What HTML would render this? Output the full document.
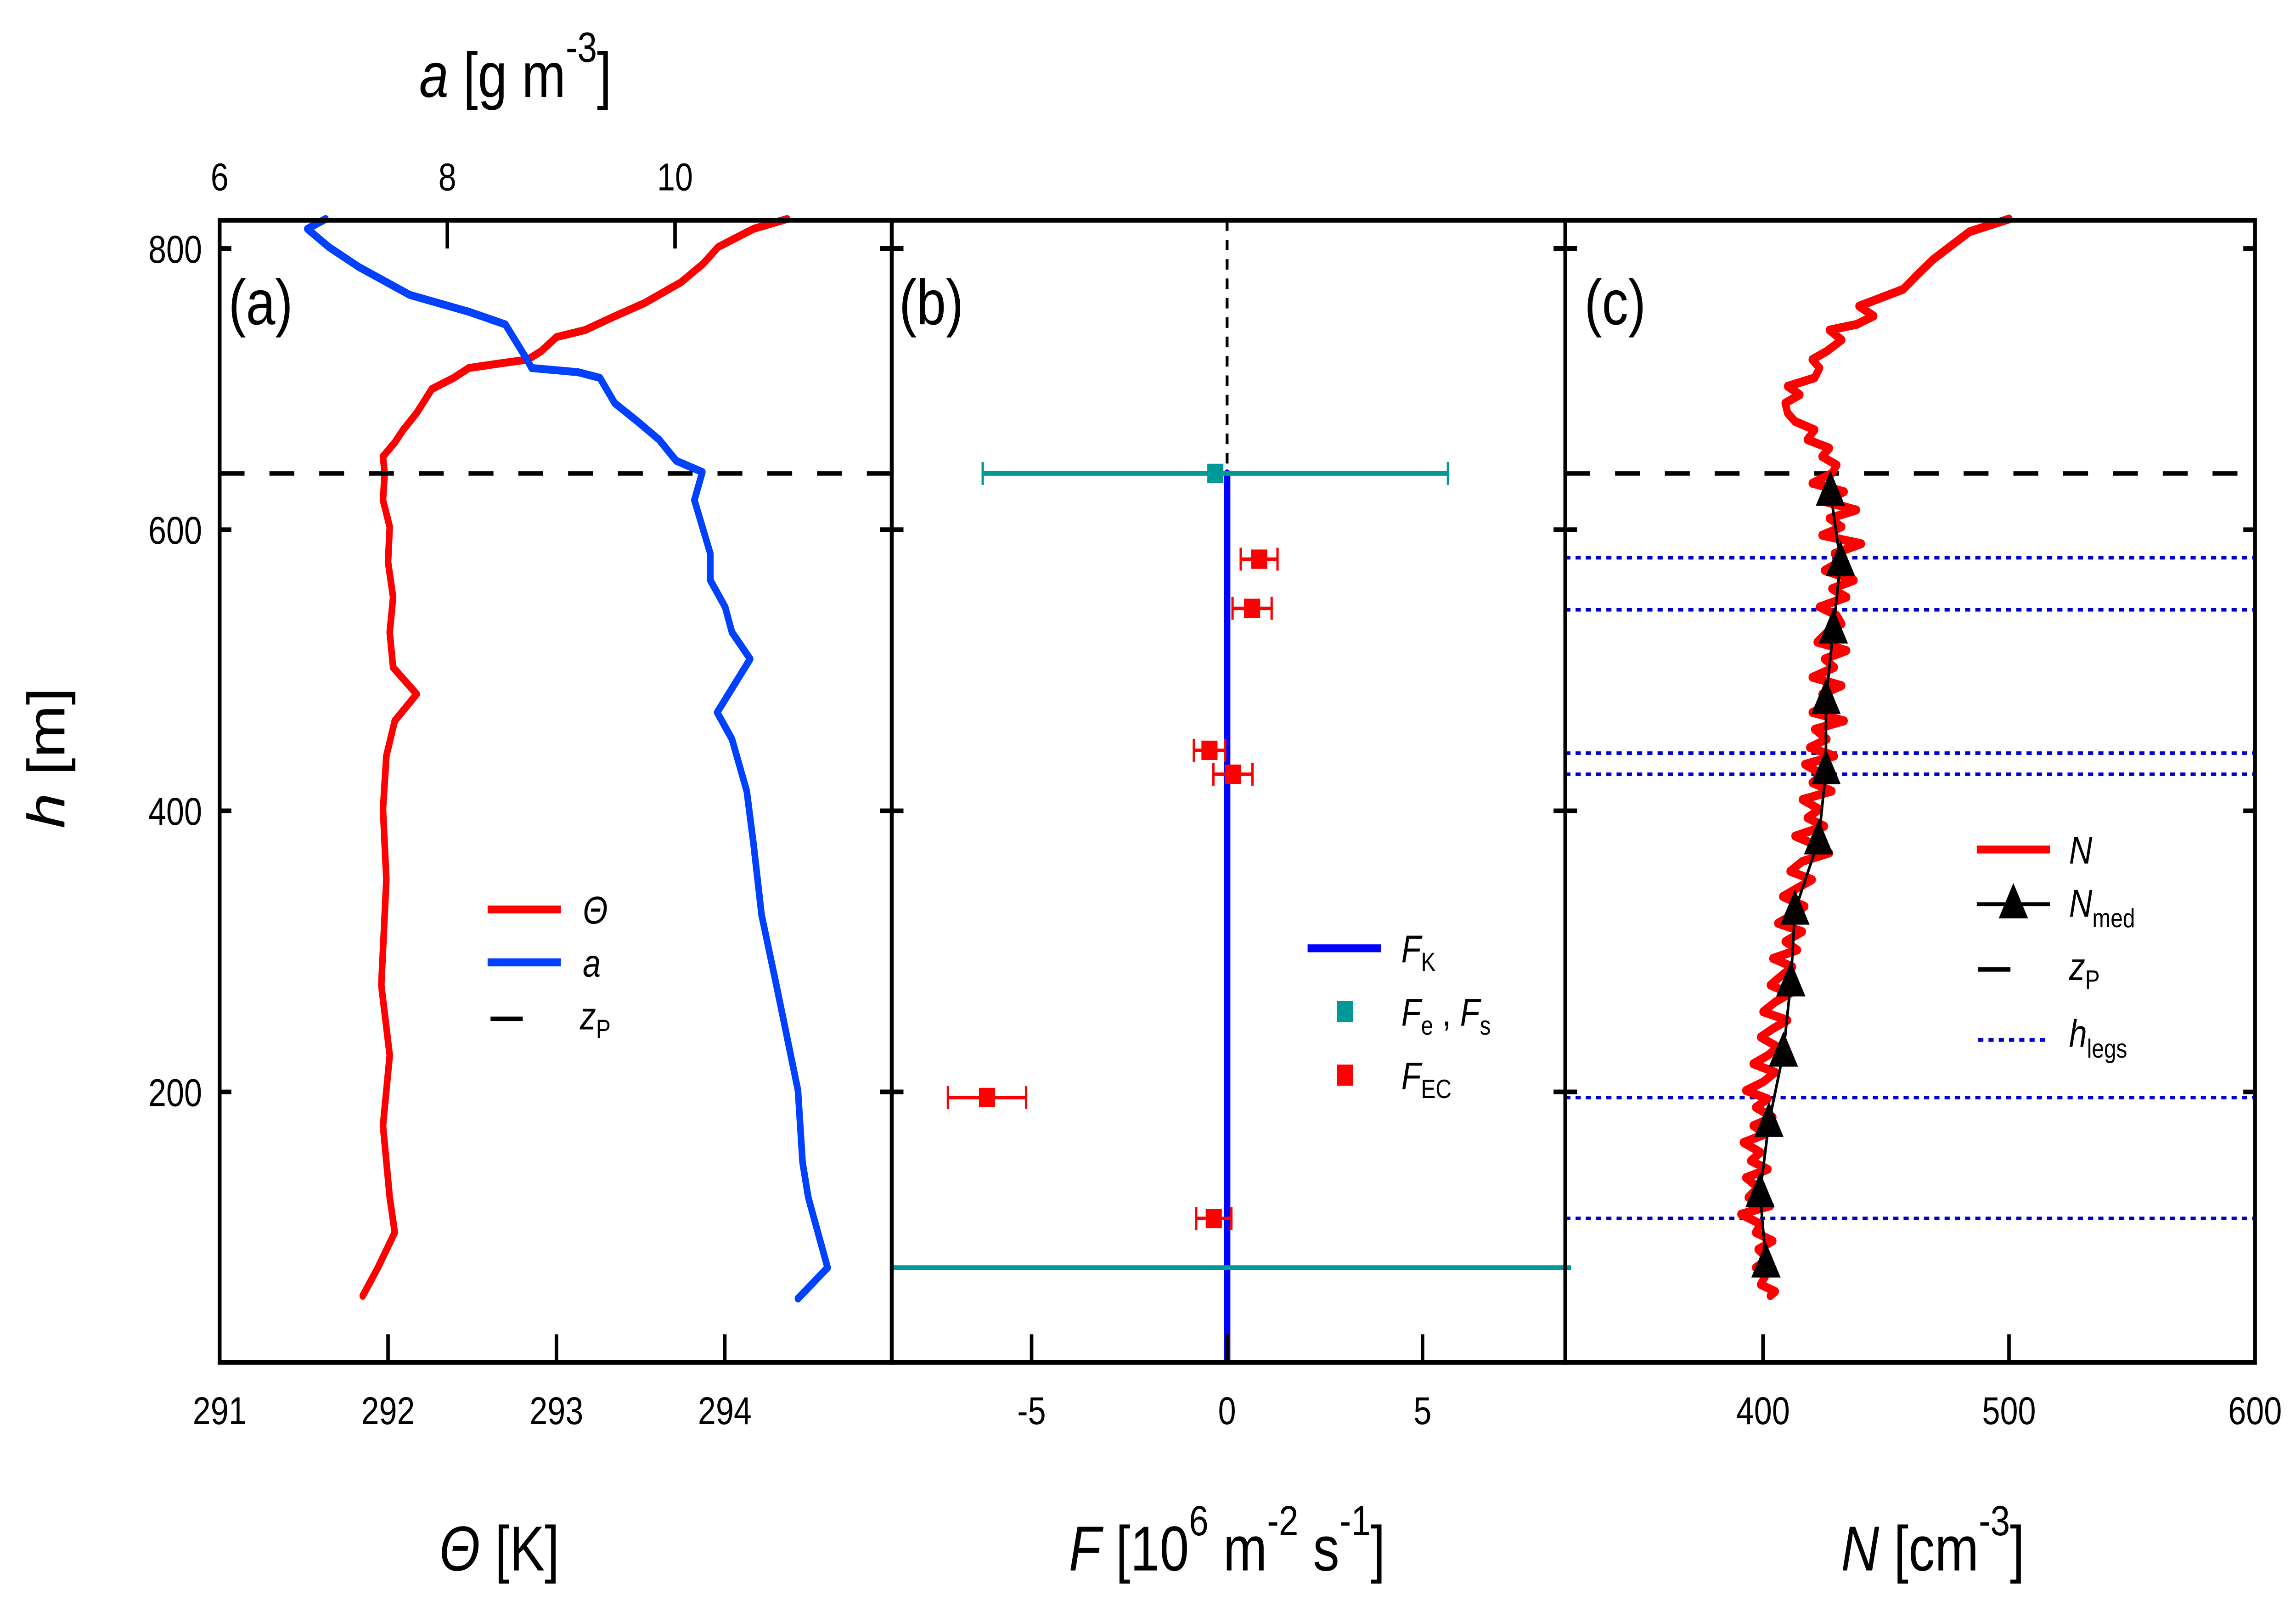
<!DOCTYPE html>
<html><head><meta charset="utf-8"><style>
html,body{margin:0;padding:0;background:#fff;width:100%;height:100%;overflow:hidden;}
svg{position:absolute;left:0;top:0;width:100vw;height:100vh;}
text{font-family:"Liberation Sans",Arial,sans-serif;}
</style></head><body>
<svg id="chart" xmlns="http://www.w3.org/2000/svg" viewBox="0 0 1568 907.76" preserveAspectRatio="none">
<rect x="0" y="0" width="1568" height="908" fill="#fff"/>
<g id="marks"></g>
<g id="frames"></g>
<g id="labels"></g>
</svg>
<script>
// ---------- data ----------
const thetaH = [821,814,801,789,776,761,752,742,737,727,721,718,715,708,700,683,671,662,652,640,621,602,577,552,527,502,483,464,439,401,351,301,276,226,176,125,100,75,55];
const thetaVals = [294.37,294.17,293.96,293.87,293.74,293.52,293.35,293.17,293.0,292.91,292.83,292.65,292.48,292.39,292.26,292.17,292.09,292.04,291.97,291.98,291.97,292.01,292.0,292.03,292.01,292.03,292.17,292.04,291.99,291.97,291.99,291.97,291.96,292.01,291.97,292.01,292.04,291.94,291.85];
const aH = [821,814,801,787,767,755,746,721,715,712,708,690,677,664,649,641,621,602,583,564,545,527,508,470,451,414,376,326,276,201,150,125,75,53];
const aVals = [6.93,6.77,6.96,7.22,7.67,8.19,8.51,8.70,8.74,9.15,9.34,9.47,9.67,9.86,10.01,10.24,10.17,10.24,10.31,10.31,10.44,10.50,10.66,10.37,10.50,10.63,10.69,10.76,10.89,11.08,11.12,11.17,11.34,11.08];
const zP = 640;
const fecH = [579,544,443,426,196,110];
const fecVals = [0.82,0.64,-0.45,0.15,-6.14,-0.34];
const fecErr = [0.47,0.5,0.4,0.5,1.0,0.45];
const fesH = [640,75];
const fesVals = [-0.3,0];
const fesErr = [5.95,30];
const fkH = [640,9];
const fkVals = [0,0];
const nH = [821,812,800,792,780,771,765,759,752,746,742,735,727,721,715,708,702,696,690,683,677,671,664,658,652,646,640,633,627,620,614,608,602,596,590,583,577,571,564,558,552,545,539,533,527,520,514,508,502,495,489,483,476,470,464,458,451,445,439,433,426,420,414,408,401,395,389,382,376,370,364,357,351,345,339,332,326,320,314,307,301,295,289,282,276,270,264,257,251,245,239,232,226,220,214,207,201,195,189,182,176,170,164,157,151,145,139,132,125,119,113,106,100,94,88,81,75,69,63,58,55];
const nVals = [500,484,475,469,462,457,448,439,445,438,427,432,426,420,423,421,410,415,409,410,413,421,418,427,424,430,428,420,433,425,438,427,432,424,440,429,431,425,437,428,434,423,430,432,426,422,434,425,429,420,432,424,428,420,433,421,426,419,429,417,424,420,428,416,423,418,425,413,421,427,416,411,420,414,408,417,412,406,416,409,414,404,412,407,403,411,405,400,410,404,399,406,402,396,405,400,393,402,397,404,396,401,392,399,395,402,393,398,394,403,391,399,397,404,398,402,397,401,399,405,403];
const nmedH = [627,577,529,479,429,379,329,278,228,178,128,78];
const nmedVals = [427.4,431.5,428.6,425.6,425.6,422.6,413,411.3,408.3,402.4,398.8,401.2];
const hlegs = [580,543,441,426,196,110];
const hTicks = [200,400,600,800];
const thetaTicks = [291,292,293,294];
const aTicks = [6,8,10];
const fTicks = [-5,0,5];
const nTicks = [400,500,600];

// ---------- axes ----------
const TOP=125, BOT=773;
const P={a:[150,609],b:[609,1069],c:[1069,1540]};
const yH = h => 141 + (800-h)*0.7975;
const xTheta = v => 150 + (v-291)*115;
const xA = v => 150 + (v-6)*77.75;
const xF = v => 838 + v*26.7;
const xN = v => 1204 + (v-400)*1.68;
const NS='http://www.w3.org/2000/svg';
const marks=document.getElementById('marks'), frames=document.getElementById('frames'), labels=document.getElementById('labels');
function mk(tag, attrs, parent){const e=document.createElementNS(NS,tag);for(const k in attrs)e.setAttribute(k,attrs[k]);parent.appendChild(e);return e;}

const defs=mk('defs',{},document.getElementById('chart'));
['a','b','c'].forEach(k=>{const cp=mk('clipPath',{id:'clip'+k},defs);mk('rect',{x:P[k][0],y:TOP,width:P[k][1]-P[k][0],height:BOT-TOP},cp);});

function poly(xs, ys, stroke, w, name){
  const d=xs.map((x,i)=>(i?'L':'M')+x.toFixed(2)+','+ys[i].toFixed(2)).join('');
  const p=mk('path',{d:d,fill:'none',stroke:stroke,'stroke-width':w,'stroke-linejoin':'round','stroke-linecap':'round'},marks);
  
  
  return p;
}

// panel a
poly(thetaVals.map(xTheta), thetaH.map(yH), '#ff0000', 4.5, 'theta-profile-line');
poly(aVals.map(xA), aH.map(yH), '#0040ff', 4.5, 'humidity-profile-line');
let zl=mk('line',{x1:150,x2:609,y1:yH(zP),y2:yH(zP),stroke:'#000','stroke-width':2.5,'stroke-dasharray':'17,17'},marks);



// panel b
let dz=mk('line',{x1:xF(0),x2:xF(0),y1:TOP,y2:yH(zP),stroke:'#000','stroke-width':2,'stroke-dasharray':'6,5'},marks);


poly(fkVals.map(xF), fkH.map(yH), '#0000ff', 4.5, 'fk-line');
fesH.forEach((h,i)=>{
  const y=yH(h), x0=Math.max(xF(fesVals[i]-fesErr[i]),609), x1=Math.min(xF(fesVals[i]+fesErr[i]),1073);
  const g=mk('g',{},marks);
  
  
  mk('line',{x1:x0,x2:x1,y1:y,y2:y,stroke:'#009999','stroke-width':2.6},g);
  if(fesErr[i]<10){
    mk('line',{x1:x0,x2:x0,y1:y-6.5,y2:y+6.5,stroke:'#009999','stroke-width':1.6},g);
    mk('line',{x1:x1,x2:x1,y1:y-6.5,y2:y+6.5,stroke:'#009999','stroke-width':1.6},g);
    mk('rect',{x:xF(fesVals[i])-5.5,y:y-5.5,width:11,height:11,fill:'#009999'},g);
  }
});
fecH.forEach((h,i)=>{
  const y=yH(h), x=xF(fecVals[i]), x0=xF(fecVals[i]-fecErr[i]), x1=xF(fecVals[i]+fecErr[i]);
  const g=mk('g',{},marks);
  
  
  mk('line',{x1:x0,x2:x1,y1:y,y2:y,stroke:'#ff0000','stroke-width':2},g);
  mk('line',{x1:x0,x2:x0,y1:y-6.5,y2:y+6.5,stroke:'#ff0000','stroke-width':1.6},g);
  mk('line',{x1:x1,x2:x1,y1:y-6.5,y2:y+6.5,stroke:'#ff0000','stroke-width':1.6},g);
  mk('rect',{x:x-5.5,y:y-5.5,width:11,height:11,fill:'#ff0000'},g);
});

// panel c
hlegs.forEach(h=>{
  const l=mk('line',{x1:1069,x2:1540,y1:yH(h),y2:yH(h),stroke:'#0000cc','stroke-width':2,'stroke-dasharray':'3.5,3.5'},marks);
  
  
});
let zc=mk('line',{x1:1069,x2:1540,y1:yH(zP),y2:yH(zP),stroke:'#000','stroke-width':2.5,'stroke-dasharray':'17,17'},marks);


poly(nVals.map(xN), nH.map(yH), '#ff0000', 5, 'n-profile-line');
poly(nmedVals.map(xN), nmedH.map(yH), '#000', 1.8, 'nmed-line');
nmedH.forEach((h,i)=>{
  const x=xN(nmedVals[i]), y=yH(h);
  const t=mk('path',{d:`M${x},${y-12}L${x+10},${y+8}L${x-10},${y+8}Z`,fill:'#000'},marks);
  
  
});

// ---------- frames & ticks ----------
['a','b','c'].forEach(k=>{
  const r=mk('rect',{x:P[k][0],y:TOP,width:P[k][1]-P[k][0],height:BOT-TOP,fill:'none',stroke:'#000','stroke-width':2.6},frames);
  
  
  hTicks.forEach(h=>{
    const y=yH(h);
    mk('line',{x1:P[k][0]-(k==='a'?0:8),x2:P[k][0]+8,y1:y,y2:y,stroke:'#000','stroke-width':2.6},frames);
    mk('line',{x1:P[k][1]-8,x2:P[k][1]+(k==='c'?0:8),y1:y,y2:y,stroke:'#000','stroke-width':2.6},frames);
  });
});
function tl(x,y,s,size,name,anchor){const t=mk('text',{x:x,y:y,'font-size':size,'text-anchor':anchor||'middle'},labels);t.textContent=s;return t;}
hTicks.forEach(h=>tl(138,yH(h)+8,String(h),22,'y-tick-label','end'));
thetaTicks.forEach(v=>{const x=xTheta(v);if(v>291)mk('line',{x1:x,x2:x,y1:BOT,y2:BOT-16,stroke:'#000','stroke-width':2.4},frames);tl(x,808,String(v),22,'theta-tick-label');});
aTicks.forEach(v=>{const x=xA(v);if(v>6)mk('line',{x1:x,x2:x,y1:TOP,y2:TOP+16,stroke:'#000','stroke-width':2.4},frames);tl(x,108,String(v),22,'a-tick-label');});
fTicks.forEach(v=>{const x=xF(v);mk('line',{x1:x,x2:x,y1:BOT,y2:BOT-16,stroke:'#000','stroke-width':2.4},frames);tl(x,808,String(v),22,'f-tick-label');});
nTicks.forEach(v=>{const x=xN(v);if(v<600)mk('line',{x1:x,x2:x,y1:BOT,y2:BOT-16,stroke:'#000','stroke-width':2.4},frames);tl(x,808,String(v),22,'n-tick-label');});
tl(178,184,'(a)',36,'panel-label-a');
tl(636,184,'(b)',36,'panel-label-b');
tl(1103,184,'(c)',36,'panel-label-c');

function lg(x1,x2,y,color,w,dash,name){const l=mk('line',{x1:x1,x2:x2,y1:y,y2:y,stroke:color,'stroke-width':w,'stroke-dasharray':dash||''},labels);}
lg(333,383,516,'#ff0000',4.5,'','legend-theta-swatch');
lg(333,383,546,'#0040ff',4.5,'','legend-a-swatch');
lg(335,357,578,'#000',2.5,'','legend-zp-swatch');
lg(893,943,538,'#0000ff',4.5,'','legend-fk-swatch');
lg(1350,1400,482,'#ff0000',4.5,'','legend-n-swatch');
lg(1350,1400,513,'#000',2.2,'','legend-nmed-swatch');
lg(1351,1373,550,'#000',2.5,'','legend-zp-c-swatch');
lg(1351,1400,590,'#0000cc',2.2,'3.5,3.5','legend-hlegs-swatch');
let tri=mk('path',{d:'M1375,501L1385,521L1365,521Z',fill:'#000'},labels);


let s1=mk('rect',{x:913,y:568,width:11,height:12,fill:'#009999'},labels);


let s2=mk('rect',{x:913,y:604,width:11,height:12,fill:'#ff0000'},labels);


</script>
<svg viewBox="0 0 1568 907.76" preserveAspectRatio="none" xmlns="http://www.w3.org/2000/svg">
<g font-family="Liberation Sans, Arial, sans-serif" fill="#000">
<text x="398" y="524" font-size="22" font-style="italic">Θ</text>
<text x="398" y="554" font-size="22" font-style="italic">a</text>
<text x="396" y="584" font-size="22" font-style="italic">z<tspan font-size="15" font-style="normal" dy="5">P</tspan></text>
<text x="957" y="546" font-size="22" font-style="italic">F<tspan font-size="15" font-style="normal" dy="5">K</tspan></text>
<text x="957" y="582" font-size="22" font-style="italic">F<tspan font-size="15" font-style="normal" dy="5">e</tspan><tspan dy="-5" font-style="normal"> , </tspan>F<tspan font-size="15" font-style="normal" dy="5">s</tspan></text>
<text x="957" y="618" font-size="22" font-style="italic">F<tspan font-size="15" font-style="normal" dy="5">EC</tspan></text>
<text x="1413" y="490" font-size="22" font-style="italic">N</text>
<text x="1413" y="520" font-size="22" font-style="italic">N<tspan font-size="15" font-style="normal" dy="6">med</tspan></text>
<text x="1413" y="556" font-size="22" font-style="italic">z<tspan font-size="15" font-style="normal" dy="5">P</tspan></text>
<text x="1413" y="594" font-size="22" font-style="italic">h<tspan font-size="15" font-style="normal" dy="6">legs</tspan></text>
<text x="352" y="55" font-size="36" text-anchor="middle"><tspan font-style="italic">a</tspan> [g m<tspan font-size="24" dy="-20">-3</tspan><tspan dy="20">]</tspan></text>
<text x="341" y="891" font-size="36" text-anchor="middle"><tspan font-style="italic">Θ</tspan> [K]</text>
<text x="838" y="891" font-size="36" text-anchor="middle"><tspan font-style="italic">F</tspan>  [10<tspan font-size="24" dy="-20">6</tspan><tspan dy="20"> m</tspan><tspan font-size="24" dy="-20">-2</tspan><tspan dy="20"> s</tspan><tspan font-size="24" dy="-20">-1</tspan><tspan dy="20">]</tspan></text>
<text x="1320" y="891" font-size="36" text-anchor="middle"><tspan font-style="italic">N</tspan> [cm<tspan font-size="24" dy="-20">-3</tspan><tspan dy="20">]</tspan></text>
<text transform="translate(44,430) rotate(-90)" font-size="36" text-anchor="middle"><tspan font-style="italic">h</tspan> [m]</text>
</g>
</svg>
</body></html>
